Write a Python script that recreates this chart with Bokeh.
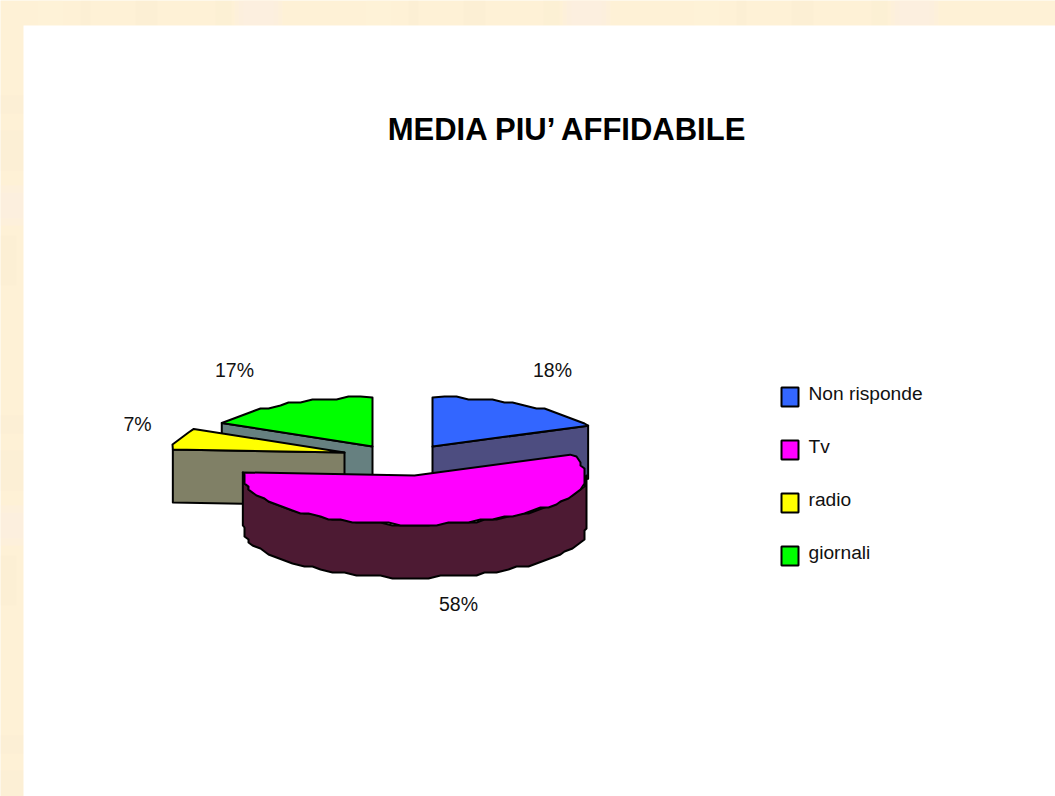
from math import sin, cos, radians

from bokeh.core.properties import value
from bokeh.embed import file_html
from bokeh.models import Range1d
from bokeh.plotting import figure
from bokeh.resources import INLINE

title_text = "MEDIA PIU’ AFFIDABILE"
categories = ["Non risponde", "Tv", "radio", "giornali"]
shares = [18, 58, 7, 17]
top_colors = ["#3366ff", "#ff00ff", "#ffff00", "#00ff00"]
side_colors = ["#4d4d80", "#4d1a33", "#808066", "#668080"]

FONT = "Liberation Sans"
W, H = 1055, 796
RX, RY, DEPTH = 172, 49, 53
GRID_X, GRID_Y = 4, 3
STEP = 4

# where each exploded slice has its apex on the page
apex = {"Non risponde": (432, 446), "Tv": (414, 475), "radio": (344, 452), "giornali": (372, 446)}
label_pos = {"Non risponde": (552, 369), "Tv": (458, 603), "radio": (137, 423), "giornali": (234, 369)}

p = figure(width=W, height=H, output_backend="svg", toolbar_location=None, min_border=0,
           x_range=Range1d(0, W), y_range=Range1d(H, 0))
p.axis.visible = False
p.grid.visible = False
p.outline_line_color = None
p.background_fill_color = "#fef1d6"
p.border_fill_color = "#fef1d6"

# faint repeating mottling of the cream backdrop, tile of about 328 by 320
for k in range(4):
    dx = 328 * k
    for off, width, color, alpha in [(234, 48, "#fdeee6", 0.3), (238, 40, "#fdeee6", 0.3),
                                     (243, 30, "#fdeee6", 0.3),
                                     (80, 10, "#f8ecd2", 0.3), (135, 22, "#f8ecd0", 0.3),
                                     (215, 16, "#f9eecf", 0.25), (38, 24, "#fff4dc", 0.3)]:
        p.quad(left=off + dx - 328, right=off + dx - 328 + width, top=0, bottom=25,
               fill_color=color, fill_alpha=alpha, line_color=None)
    dy = 320 * k
    for off, height, x1, color, alpha in [(185, 40, 23, "#fdeee4", 0.35), (192, 26, 23, "#fdeee4", 0.3),
                                          (130, 40, 23, "#f8ecd2", 0.25),
                                          (235, 50, 16, "#f8ecd2", 0.3), (95, 18, 23, "#f9ecd2", 0.25)]:
        p.quad(left=0, right=x1, top=off + dy, bottom=off + dy + height,
               fill_color=color, fill_alpha=alpha, line_color=None)

# white sheet over the cream backdrop
p.quad(left=23, right=W, top=25, bottom=H, fill_color="white", line_color=None)


def rim(cx, cy, t0, t1):
    """Rim of a slice between two pie angles, stepped like a coarse rasterised ellipse."""
    n = max(1, int(abs(t1 - t0) / STEP))
    pts = []
    for i in range(n + 1):
        t = t0 + (t1 - t0) * i / n
        x = cx + RX * sin(radians(t))
        y = cy - RY * cos(radians(t))
        if 0 < i < n:
            x = min(max(round(x / GRID_X) * GRID_X, cx - RX), cx + RX)
            y = round(y / GRID_Y) * GRID_Y
        pts.append((x, y))
    return pts


# cumulative pie angles, clockwise from straight back
angles = {}
acc = 0.0
for name, share in zip(categories, shares):
    angles[name] = (acc * 3.6, (acc + share) * 3.6)
    acc += share


def poly(pts, color):
    p.patch([q[0] for q in pts], [q[1] for q in pts], fill_color=color,
            line_color="black", line_width=2, line_join="round")


def cut_face(name, t, color):
    cx, cy = apex[name]
    ex = cx + RX * sin(radians(t))
    ey = cy - RY * cos(radians(t))
    poly([(cx, cy), (ex, ey), (ex, ey + DEPTH), (cx, cy + DEPTH)], color)


# back slices first, the Tv slice last because it sits in front of everything
for name in ["giornali", "Non risponde", "radio", "Tv"]:
    i = categories.index(name)
    t0, t1 = angles[name]
    cx, cy = apex[name]
    if name == "Non risponde":
        cut_face(name, t1, side_colors[i])
    elif name in ("radio", "giornali"):
        cut_face(name, t0, side_colors[i])
    else:
        front = rim(cx, cy, 90, t1)
        poly(front + [(q[0], q[1] + DEPTH) for q in reversed(front)], side_colors[i])
    poly([(cx, cy)] + rim(cx, cy, t0, t1), top_colors[i])

# percentage labels
for name, share in zip(categories, shares):
    x, y = label_pos[name]
    p.text([x], [y], text=[f"{share}%"], text_font=value(FONT), text_font_size="19.5px",
           text_align="center", text_baseline="middle", text_color="#111111")

# legend
for i, (name, color) in enumerate(zip(categories, top_colors)):
    y0 = 387 + 53 * i
    p.quad(left=781, right=798, top=y0, bottom=y0 + 19, fill_color=color,
           line_color="black", line_width=2)
    p.text([808], [y0 + 6], text=[name], text_font=value(FONT), text_font_size="19.2px",
           text_align="left", text_baseline="middle", text_color="#111111")

p.text([568], [129], text=[title_text], text_font=value(FONT), text_font_size="31px",
       text_font_style="bold", text_align="center", text_baseline="middle", text_color="black")

open("out.html", "w").write(file_html(p, INLINE))
